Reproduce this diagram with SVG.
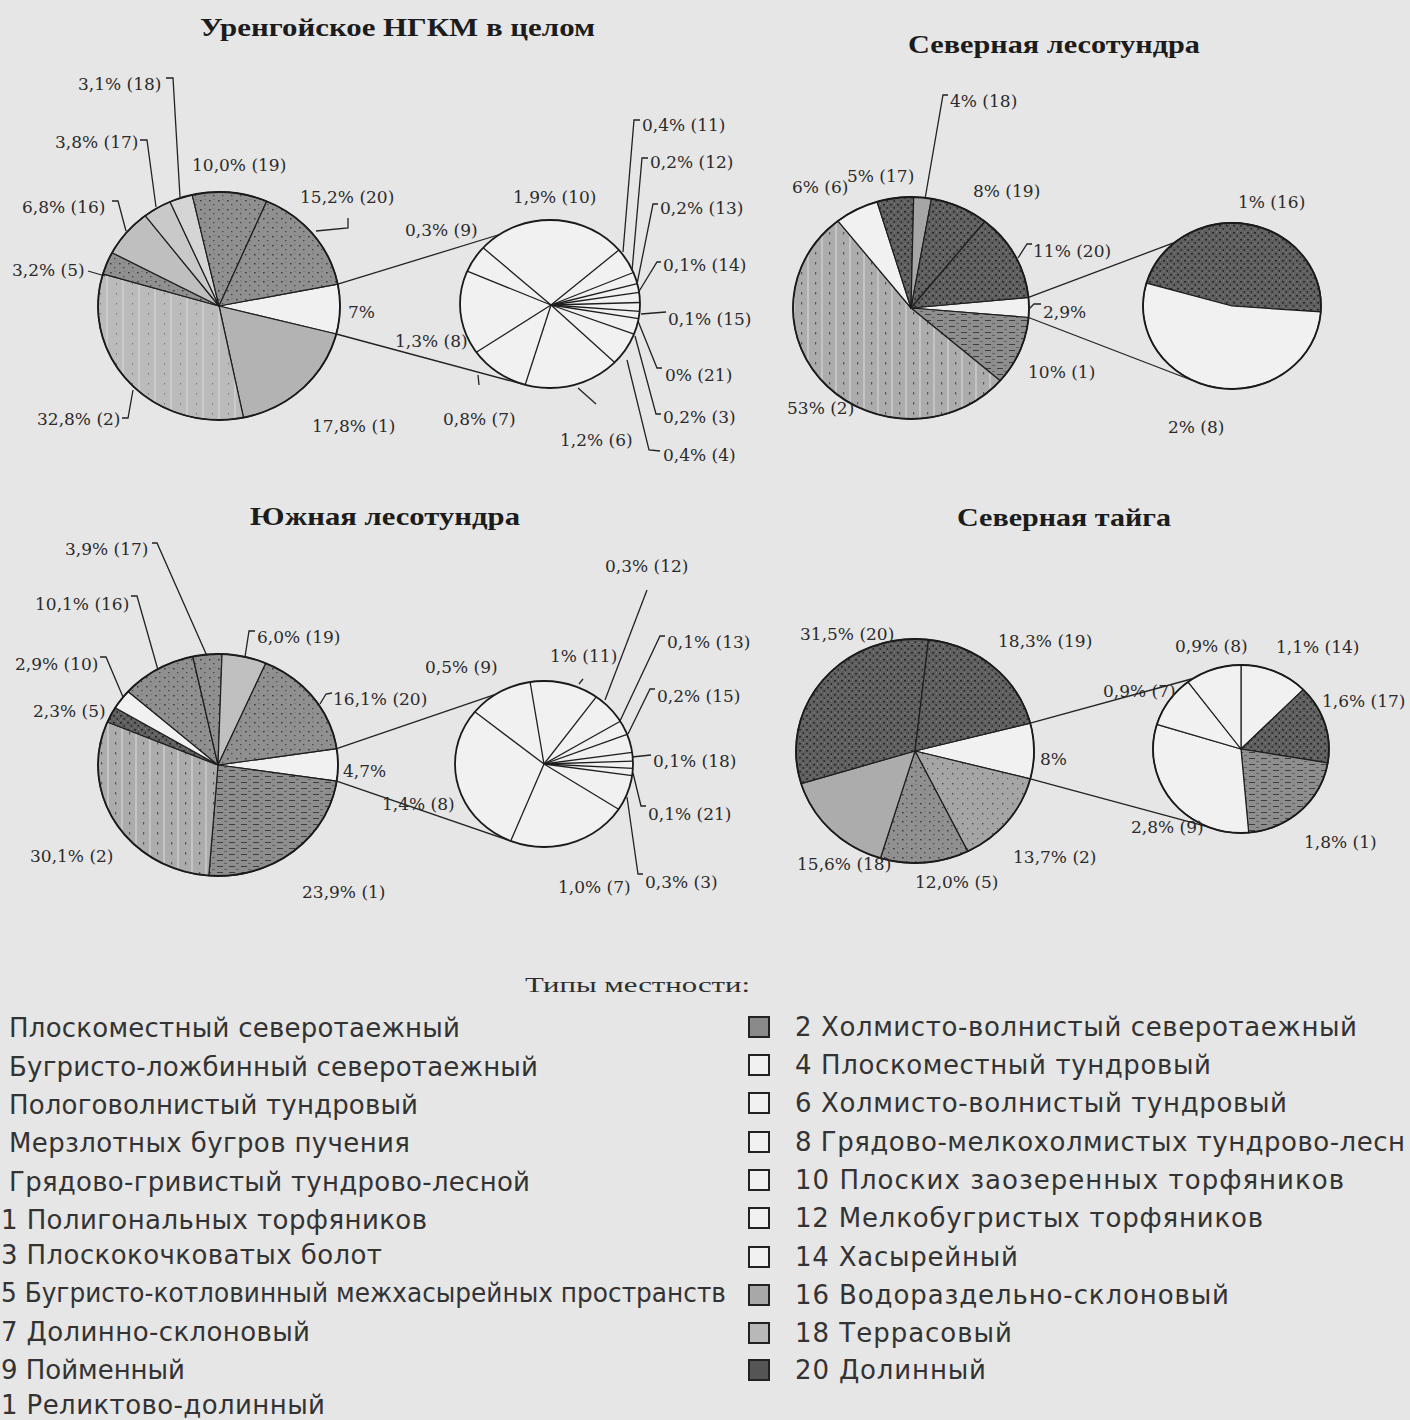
<svg xmlns="http://www.w3.org/2000/svg" width="1410" height="1420" viewBox="0 0 1410 1420">
<defs>
<style>
.sl{stroke:#1e1e1e;stroke-width:1.2;stroke-linejoin:round}
.w{fill:#f1f1f1}
.rim{fill:none;stroke:#1a1a1a;stroke-width:1.8}
.rad{stroke:#1e1e1e;stroke-width:1.3}
.ld{fill:none;stroke:#222;stroke-width:1.3}
.lb{font-family:"DejaVu Serif","Liberation Serif",serif;font-size:17px;fill:#2b2b2b}
.tt{font-family:"Liberation Serif","DejaVu Serif",serif;font-weight:bold;font-size:25px;fill:#1c1c1c}
.lh{font-family:"Liberation Serif","DejaVu Serif",serif;font-size:22px;fill:#2e2e2e}
.lg{font-family:"DejaVu Sans","Liberation Sans",sans-serif;font-size:26px;fill:#333}
.bx{stroke:#222;stroke-width:2}
</style>
<pattern id="pA" width="7" height="7" patternUnits="userSpaceOnUse">
<rect width="7" height="7" fill="#5f5f5f"/>
<rect x="1" y="1" width="2" height="1.5" fill="#262626"/>
<rect x="4.5" y="4" width="1.5" height="2" fill="#303030"/>
<rect x="5" y="0.5" width="1" height="1" fill="#8c8c8c"/>
<rect x="1.5" y="5" width="1" height="1" fill="#858585"/>
</pattern>
<pattern id="pB" width="9" height="9" patternUnits="userSpaceOnUse">
<rect width="9" height="9" fill="#909090"/>
<rect x="2" y="2" width="1.6" height="1.4" fill="#3a3a3a"/>
<rect x="6" y="6" width="1.4" height="1.2" fill="#474747"/>
<rect x="6.5" y="1" width="1" height="1" fill="#6a6a6a"/>
</pattern>
<pattern id="pD" width="10" height="10" patternUnits="userSpaceOnUse">
<rect width="10" height="10" fill="#a5a5a5"/>
<rect x="2" y="3" width="1.4" height="1.4" fill="#4a4a4a"/>
<rect x="7" y="8" width="1.2" height="1.2" fill="#555"/>
</pattern>
<pattern id="pV" width="14" height="10" patternUnits="userSpaceOnUse">
<rect width="14" height="10" fill="#acacac"/>
<rect x="9" width="2" height="10" fill="#c4c4c4"/>
<rect x="3" y="2" width="1.2" height="2.5" fill="#555"/>
</pattern>
<pattern id="pV1" width="16" height="10" patternUnits="userSpaceOnUse">
<rect width="16" height="10" fill="#bbbbbb"/>
<rect x="10" width="2" height="10" fill="#cbcbcb"/>
<rect x="4" y="3" width="1" height="1.5" fill="#777"/>
</pattern>
<pattern id="pH" width="12" height="6" patternUnits="userSpaceOnUse">
<rect width="12" height="6" fill="#8e8e8e"/>
<rect x="1" y="2" width="6" height="1" fill="#3e3e3e"/>
<rect x="8" y="5" width="3" height="0.8" fill="#555"/>
</pattern>
</defs>
<rect width="1410" height="1420" fill="#e6e6e6"/>

<g id="chart-urengoy">
<text class="tt" x="200" y="36" textLength="395" lengthAdjust="spacingAndGlyphs">Уренгойское НГКМ в целом</text>
<g id="pie-urengoy-main">
<path class="sl w" d="M219 306 L337.8 284.2 A121 114 0 0 1 336.3 334 Z"/>
<path class="sl" fill="#b3b3b3" d="M219 306 L336.3 334 A121 114 0 0 1 243.5 417.6 Z"/>
<path class="sl" fill="url(#pV1)" d="M219 306 L243.5 417.6 A121 114 0 0 1 102.9 273.8 Z"/>
<path class="sl" fill="url(#pB)" d="M219 306 L102.9 273.8 A121 114 0 0 1 112.1 252.7 Z"/>
<path class="sl" fill="#bfbfbf" d="M219 306 L112.1 252.7 A121 114 0 0 1 145.2 215.7 Z"/>
<path class="sl" fill="#c9c9c9" d="M219 306 L145.2 215.7 A121 114 0 0 1 170 201.8 Z"/>
<path class="sl" fill="#d5d5d5" d="M219 306 L170 201.8 A121 114 0 0 1 192.2 194.8 Z"/>
<path class="sl" fill="url(#pB)" d="M219 306 L192.2 194.8 A121 114 0 0 1 266.7 201.2 Z"/>
<path class="sl" fill="url(#pB)" d="M219 306 L266.7 201.2 A121 114 0 0 1 337.8 284.2 Z"/>
<ellipse class="rim" cx="219" cy="306" rx="121" ry="114"/>
</g>
<g id="pie-urengoy-detail">
<ellipse class="w" cx="550" cy="304" rx="90" ry="84"/>
<g class="rad">
<line x1="551" y1="305" x2="483.1" y2="247.8"/>
<line x1="551" y1="305" x2="467.2" y2="271.2"/>
<line x1="551" y1="305" x2="476.3" y2="352.2"/>
<line x1="551" y1="305" x2="525.2" y2="384.7"/>
<line x1="551" y1="305" x2="614.7" y2="362.4"/>
<line x1="551" y1="305" x2="618.9" y2="250"/>
<line x1="551" y1="305" x2="633.4" y2="272.5"/>
<line x1="551" y1="305" x2="637.3" y2="283.7"/>
<line x1="551" y1="305" x2="639.1" y2="292.3"/>
<line x1="551" y1="305" x2="640" y2="302.5"/>
<line x1="551" y1="305" x2="639.7" y2="311.3"/>
<line x1="551" y1="305" x2="638.6" y2="318.6"/>
<line x1="551" y1="305" x2="634" y2="334.1"/>
</g>
<ellipse class="rim" cx="550" cy="304" rx="90" ry="84"/>
</g>
<g id="labels-urengoy">
<text class="lb" x="78" y="90">3,1% (18)</text>
<text class="lb" x="55" y="148">3,8% (17)</text>
<text class="lb" x="192" y="171">10,0% (19)</text>
<text class="lb" x="300" y="203">15,2% (20)</text>
<text class="lb" x="22" y="213">6,8% (16)</text>
<text class="lb" x="12" y="276">3,2% (5)</text>
<text class="lb" x="348" y="318">7%</text>
<text class="lb" x="37" y="425">32,8% (2)</text>
<text class="lb" x="312" y="432">17,8% (1)</text>
<text class="lb" x="513" y="203">1,9% (10)</text>
<text class="lb" x="405" y="236">0,3% (9)</text>
<text class="lb" x="395" y="347">1,3% (8)</text>
<text class="lb" x="443" y="425">0,8% (7)</text>
<text class="lb" x="560" y="446">1,2% (6)</text>
<text class="lb" x="642" y="131">0,4% (11)</text>
<text class="lb" x="650" y="168">0,2% (12)</text>
<text class="lb" x="660" y="214">0,2% (13)</text>
<text class="lb" x="663" y="271">0,1% (14)</text>
<text class="lb" x="668" y="325">0,1% (15)</text>
<text class="lb" x="665" y="381">0% (21)</text>
<text class="lb" x="663" y="423">0,2% (3)</text>
<text class="lb" x="663" y="461">0,4% (4)</text>
</g>
</g>

<g id="chart-north-foresttundra">
<text class="tt" x="908" y="53" textLength="292" lengthAdjust="spacingAndGlyphs">Северная лесотундра</text>
<g id="pie-nft-main">
<path class="sl w" d="M911 308 L1028.5 297.4 A118 111 0 0 1 1028.6 317.5 Z"/>
<path class="sl" fill="url(#pH)" d="M911 308 L1028.6 317.5 A118 111 0 0 1 1000.2 380.7 Z"/>
<path class="sl" fill="url(#pV)" d="M911 308 L1000.2 380.7 A118 111 0 1 1 837.9 220.9 Z"/>
<path class="sl w" d="M911 308 L837.9 220.9 A118 111 0 0 1 877.1 201.7 Z"/>
<path class="sl" fill="url(#pA)" d="M911 308 L877.1 201.7 A118 111 0 0 1 913.7 197 Z"/>
<path class="sl" fill="#a6a6a6" d="M911 308 L913.7 197 A118 111 0 0 1 931.5 198.7 Z"/>
<path class="sl" fill="url(#pA)" d="M911 308 L931.5 198.7 A118 111 0 0 1 984.9 221.5 Z"/>
<path class="sl" fill="url(#pA)" d="M911 308 L984.9 221.5 A118 111 0 0 1 1028.5 297.4 Z"/>
<ellipse class="rim" cx="911" cy="308" rx="118" ry="111"/>
</g>
<g id="pie-nft-detail">
<path class="sl" fill="url(#pA)" d="M1232 306 L1146.4 283.2 A89 83 0 0 1 1320.8 311.9 Z"/>
<path class="sl w" d="M1232 306 L1320.8 311.9 A89 83 0 1 1 1146.4 283.2 Z"/>
<ellipse class="rim" cx="1232" cy="306" rx="89" ry="83"/>
</g>
<g id="labels-nft">
<text class="lb" x="950" y="107">4% (18)</text>
<text class="lb" x="792" y="193">6% (6)</text>
<text class="lb" x="847" y="182">5% (17)</text>
<text class="lb" x="973" y="197">8% (19)</text>
<text class="lb" x="1033" y="257">11% (20)</text>
<text class="lb" x="1043" y="318">2,9%</text>
<text class="lb" x="1028" y="378">10% (1)</text>
<text class="lb" x="787" y="414">53% (2)</text>
<text class="lb" x="1238" y="208">1% (16)</text>
<text class="lb" x="1168" y="433">2% (8)</text>
</g>
</g>

<g id="chart-south-foresttundra">
<text class="tt" x="250" y="525" textLength="270" lengthAdjust="spacingAndGlyphs">Южная лесотундра</text>
<g id="pie-sft-main">
<path class="sl w" d="M218 765 L336.7 748.6 A120 111 0 0 1 336.7 781.2 Z"/>
<path class="sl" fill="url(#pH)" d="M218 765 L336.7 781.2 A120 111 0 0 1 208.8 875.7 Z"/>
<path class="sl" fill="url(#pV)" d="M218 765 L208.8 875.7 A120 111 0 0 1 107.4 722 Z"/>
<path class="sl" fill="url(#pA)" d="M218 765 L107.4 722 A120 111 0 0 1 115.2 707.7 Z"/>
<path class="sl w" d="M218 765 L115.2 707.7 A120 111 0 0 1 128.1 691.5 Z"/>
<path class="sl" fill="url(#pB)" d="M218 765 L128.1 691.5 A120 111 0 0 1 192.8 656.5 Z"/>
<path class="sl" fill="url(#pB)" d="M218 765 L192.8 656.5 A120 111 0 0 1 222 654.1 Z"/>
<path class="sl" fill="#c0c0c0" d="M218 765 L222 654.1 A120 111 0 0 1 265.8 663.2 Z"/>
<path class="sl" fill="url(#pB)" d="M218 765 L265.8 663.2 A120 111 0 0 1 336.7 748.6 Z"/>
<ellipse class="rim" cx="218" cy="765" rx="120" ry="111"/>
</g>
<g id="pie-sft-detail">
<ellipse class="w" cx="544" cy="764" rx="89" ry="83"/>
<g class="rad">
<line x1="544" y1="764" x2="530.1" y2="682"/>
<line x1="544" y1="764" x2="474.8" y2="711.8"/>
<line x1="544" y1="764" x2="510.7" y2="841"/>
<line x1="544" y1="764" x2="618.6" y2="809.2"/>
<line x1="544" y1="764" x2="596.3" y2="696.9"/>
<line x1="544" y1="764" x2="620.3" y2="721.3"/>
<line x1="544" y1="764" x2="627.1" y2="734.3"/>
<line x1="544" y1="764" x2="632.1" y2="752.4"/>
<line x1="544" y1="764" x2="632.9" y2="761.1"/>
<line x1="544" y1="764" x2="632.9" y2="768.3"/>
<line x1="544" y1="764" x2="632.1" y2="775.6"/>
</g>
<ellipse class="rim" cx="544" cy="764" rx="89" ry="83"/>
</g>
<g id="labels-sft">
<text class="lb" x="65" y="555">3,9% (17)</text>
<text class="lb" x="35" y="610">10,1% (16)</text>
<text class="lb" x="257" y="643">6,0% (19)</text>
<text class="lb" x="15" y="670">2,9% (10)</text>
<text class="lb" x="33" y="717">2,3% (5)</text>
<text class="lb" x="333" y="705">16,1% (20)</text>
<text class="lb" x="343" y="777">4,7%</text>
<text class="lb" x="30" y="862">30,1% (2)</text>
<text class="lb" x="302" y="898">23,9% (1)</text>
<text class="lb" x="605" y="572">0,3% (12)</text>
<text class="lb" x="550" y="662">1% (11)</text>
<text class="lb" x="425" y="673">0,5% (9)</text>
<text class="lb" x="667" y="648">0,1% (13)</text>
<text class="lb" x="657" y="702">0,2% (15)</text>
<text class="lb" x="653" y="767">0,1% (18)</text>
<text class="lb" x="648" y="820">0,1% (21)</text>
<text class="lb" x="645" y="888">0,3% (3)</text>
<text class="lb" x="558" y="893">1,0% (7)</text>
<text class="lb" x="382" y="810">1,4% (8)</text>
</g>
</g>

<g id="chart-north-taiga">
<text class="tt" x="957" y="526" textLength="214" lengthAdjust="spacingAndGlyphs">Северная тайга</text>
<g id="pie-nt-main">
<path class="sl w" d="M915 751 L1030.3 723.1 A119 112 0 0 1 1030.3 778.9 Z"/>
<path class="sl" fill="url(#pD)" d="M915 751 L1030.3 778.9 A119 112 0 0 1 967.7 851.4 Z"/>
<path class="sl" fill="url(#pB)" d="M915 751 L967.7 851.4 A119 112 0 0 1 880.4 858.2 Z"/>
<path class="sl" fill="#acacac" d="M915 751 L880.4 858.2 A119 112 0 0 1 801.1 783.6 Z"/>
<path class="sl" fill="url(#pA)" d="M915 751 L801.1 783.6 A119 112 0 0 1 928.5 639.7 Z"/>
<path class="sl" fill="url(#pA)" d="M915 751 L928.5 639.7 A119 112 0 0 1 1030.3 723.1 Z"/>
<ellipse class="rim" cx="915" cy="751" rx="119" ry="112"/>
</g>
<g id="pie-nt-detail">
<path class="sl w" d="M1241 749 L1241 665 A88 84 0 0 1 1303.2 689.6 Z"/>
<path class="sl" fill="url(#pA)" d="M1241 749 L1303.2 689.6 A88 84 0 0 1 1327.8 762.9 Z"/>
<path class="sl" fill="url(#pH)" d="M1241 749 L1327.8 762.9 A88 84 0 0 1 1248.7 832.7 Z"/>
<path class="sl w" d="M1241 749 L1248.7 832.7 A88 84 0 0 1 1156.8 724.4 Z"/>
<path class="sl w" d="M1241 749 L1156.8 724.4 A88 84 0 0 1 1188 681.9 Z"/>
<path class="sl w" d="M1241 749 L1188 681.9 A88 84 0 0 1 1241 665 Z"/>
<ellipse class="rim" cx="1241" cy="749" rx="88" ry="84"/>
</g>
<g id="labels-nt">
<text class="lb" x="800" y="640">31,5% (20)</text>
<text class="lb" x="998" y="647">18,3% (19)</text>
<text class="lb" x="1040" y="765">8%</text>
<text class="lb" x="1013" y="863">13,7% (2)</text>
<text class="lb" x="915" y="888">12,0% (5)</text>
<text class="lb" x="797" y="870">15,6% (18)</text>
<text class="lb" x="1103" y="697">0,9% (7)</text>
<text class="lb" x="1131" y="833">2,8% (9)</text>
<text class="lb" x="1175" y="652">0,9% (8)</text>
<text class="lb" x="1276" y="653">1,1% (14)</text>
<text class="lb" x="1322" y="707">1,6% (17)</text>
<text class="lb" x="1304" y="848">1,8% (1)</text>
</g>
</g>

<g id="connectors">
<line class="ld" x1="337.8" y1="284.2" x2="498" y2="235"/>
<line class="ld" x1="336.3" y1="334" x2="524" y2="384.5"/>
<line class="ld" x1="1028.5" y1="297.4" x2="1174.8" y2="242.4"/>
<line class="ld" x1="1028.6" y1="317.5" x2="1201.6" y2="384"/>
<line class="ld" x1="336.7" y1="748.6" x2="495.5" y2="694.4"/>
<line class="ld" x1="336.7" y1="781.2" x2="513.6" y2="842"/>
<line class="ld" x1="1030.3" y1="723.1" x2="1193.1" y2="678.5"/>
<line class="ld" x1="1030.3" y1="778.9" x2="1208" y2="826.9"/>
<polyline class="ld" points="166,78 173,78 180,197"/>
<polyline class="ld" points="140,140 147,140 156,207"/>
<polyline class="ld" points="112,201 118,201 126,231"/>
<polyline class="ld" points="88,271 105,276"/>
<polyline class="ld" points="348,218 348,228 316,231"/>
<polyline class="ld" points="122,418 128,418 133,390"/>
<polyline class="ld" points="640,120 634,120 623,252"/>
<polyline class="ld" points="648,158 642,158 632,271"/>
<polyline class="ld" points="658,204 653,204 637,284"/>
<polyline class="ld" points="661,262 657,262 638,293"/>
<polyline class="ld" points="641,314 666,312"/>
<polyline class="ld" points="662,368 657,368 638,321"/>
<polyline class="ld" points="661,414 656,414 635,336"/>
<polyline class="ld" points="660,451 649,450 627,360"/>
<polyline class="ld" points="596,404 578,388"/>
<polyline class="ld" points="478,375 479,385"/>
<polyline class="ld" points="948,95 943,95 925,199"/>
<polyline class="ld" points="1032,244 1027,244 1018,258"/>
<polyline class="ld" points="1041,304 1034,304 1029,309"/>
<polyline class="ld" points="152,543 157,543 207,656"/>
<polyline class="ld" points="131,596 137,596 158,670"/>
<polyline class="ld" points="255,631 249,631 245,657"/>
<polyline class="ld" points="100,657 106,657 123,697"/>
<polyline class="ld" points="332,693 326,694 320,704"/>
<polyline class="ld" points="647,590 605,700"/>
<polyline class="ld" points="579,684 583,679"/>
<polyline class="ld" points="665,636 660,636 620,721"/>
<polyline class="ld" points="655,689 650,689 628,734"/>
<polyline class="ld" points="651,755 632,757"/>
<polyline class="ld" points="646,806 641,806 633,773"/>
<polyline class="ld" points="643,874 638,874 627,797"/>
</g>

<g id="legend">
<text class="lh" x="525" y="992" textLength="225" lengthAdjust="spacingAndGlyphs">Типы местности:</text>
<g id="legend-left">
<text class="lg" x="9" y="1037" textLength="451" lengthAdjust="spacing">Плоскоместный северотаежный</text>
<text class="lg" x="9" y="1076" textLength="529" lengthAdjust="spacing">Бугристо-ложбинный северотаежный</text>
<text class="lg" x="9" y="1114" textLength="409" lengthAdjust="spacing">Пологоволнистый тундровый</text>
<text class="lg" x="9" y="1152" textLength="401" lengthAdjust="spacing">Мерзлотных бугров пучения</text>
<text class="lg" x="9" y="1191" textLength="521" lengthAdjust="spacing">Грядово-гривистый тундрово-лесной</text>
<text class="lg" x="1" y="1229" textLength="426" lengthAdjust="spacing">1 Полигональных торфяников</text>
<text class="lg" x="1" y="1264" textLength="381" lengthAdjust="spacing">3 Плоскокочковатых болот</text>
<text class="lg" x="1" y="1302" textLength="725" lengthAdjust="spacingAndGlyphs">5 Бугристо-котловинный межхасырейных пространств</text>
<text class="lg" x="1" y="1341" textLength="309" lengthAdjust="spacing">7 Долинно-склоновый</text>
<text class="lg" x="1" y="1379" textLength="184" lengthAdjust="spacing">9 Пойменный</text>
<text class="lg" x="1" y="1414" textLength="324" lengthAdjust="spacing">1 Реликтово-долинный</text>
</g>
<g id="legend-item-2"><rect class="bx" x="749" y="1017" width="20" height="20" fill="#8a8a8a"/><text class="lg" x="795" y="1036" textLength="562" lengthAdjust="spacing">2 Холмисто-волнистый северотаежный</text></g>
<g id="legend-item-4"><rect class="bx" x="749" y="1055" width="20" height="20" fill="#f1f1f1"/><text class="lg" x="795" y="1074" textLength="416" lengthAdjust="spacing">4 Плоскоместный тундровый</text></g>
<g id="legend-item-6"><rect class="bx" x="749" y="1093" width="20" height="20" fill="#f1f1f1"/><text class="lg" x="795" y="1112" textLength="492" lengthAdjust="spacing">6 Холмисто-волнистый тундровый</text></g>
<g id="legend-item-8"><rect class="bx" x="749" y="1132" width="20" height="20" fill="#f1f1f1"/><text class="lg" x="795" y="1151" textLength="610" lengthAdjust="spacing">8 Грядово-мелкохолмистых тундрово-лесн</text></g>
<g id="legend-item-10"><rect class="bx" x="749" y="1170" width="20" height="20" fill="#f1f1f1"/><text class="lg" x="795" y="1189" textLength="549" lengthAdjust="spacing">10 Плоских заозеренных торфяников</text></g>
<g id="legend-item-12"><rect class="bx" x="749" y="1208" width="20" height="20" fill="#f1f1f1"/><text class="lg" x="795" y="1227" textLength="468" lengthAdjust="spacing">12 Мелкобугристых торфяников</text></g>
<g id="legend-item-14"><rect class="bx" x="749" y="1247" width="20" height="20" fill="#f1f1f1"/><text class="lg" x="795" y="1266" textLength="223" lengthAdjust="spacing">14 Хасырейный</text></g>
<g id="legend-item-16"><rect class="bx" x="749" y="1285" width="20" height="20" fill="#a8a8a8"/><text class="lg" x="795" y="1304" textLength="434" lengthAdjust="spacing">16 Водораздельно-склоновый</text></g>
<g id="legend-item-18"><rect class="bx" x="749" y="1323" width="20" height="20" fill="#b8b8b8"/><text class="lg" x="795" y="1342" textLength="217" lengthAdjust="spacing">18 Террасовый</text></g>
<g id="legend-item-20"><rect class="bx" x="749" y="1360" width="20" height="20" fill="#555555"/><text class="lg" x="795" y="1379" textLength="191" lengthAdjust="spacing">20 Долинный</text></g>
</g>
</svg>
